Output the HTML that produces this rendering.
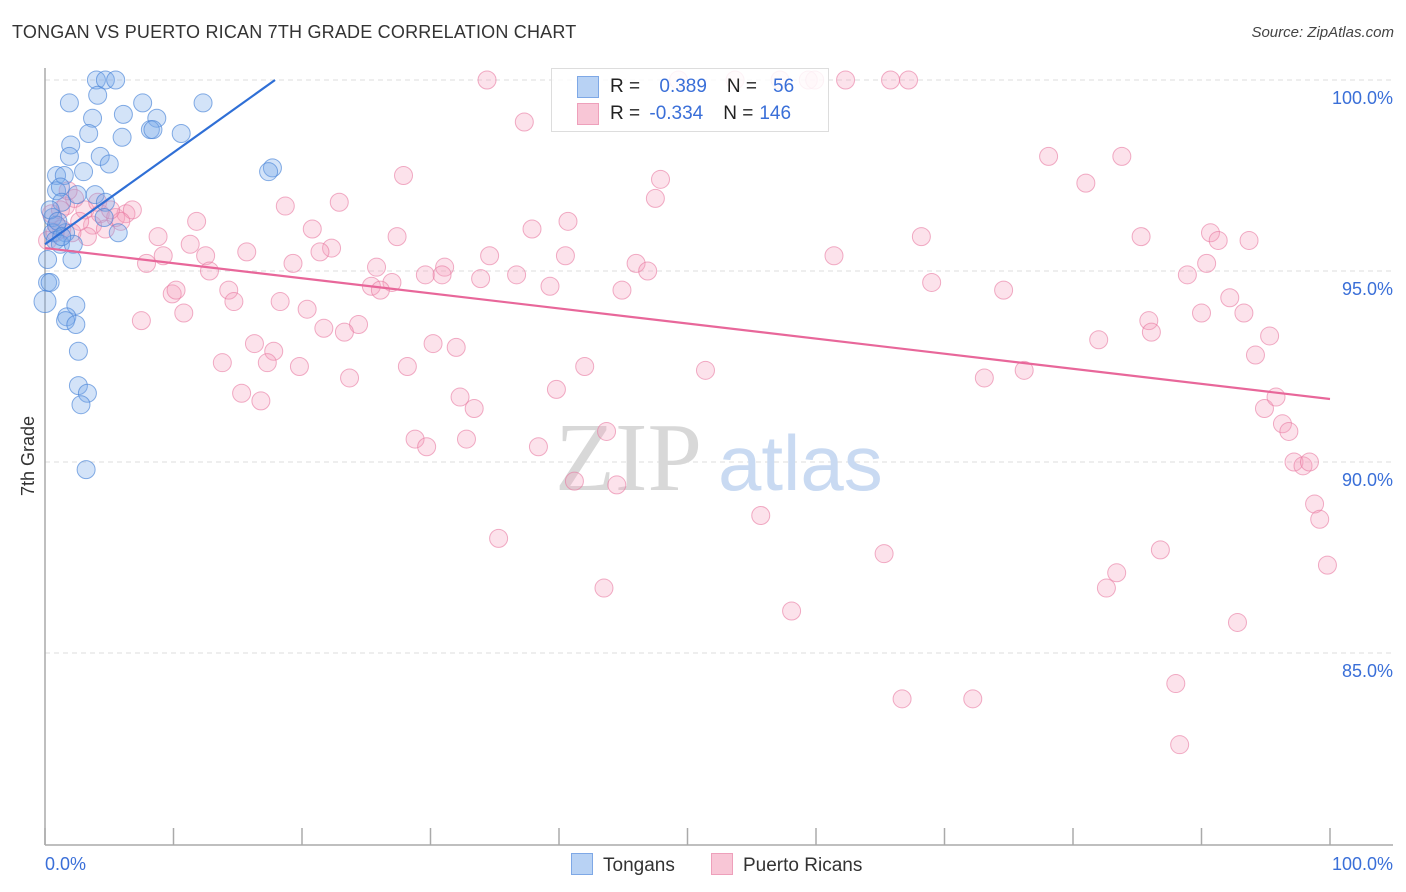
<!DOCTYPE html>
<html><head><meta charset="utf-8"><style>
body{margin:0;background:#fff;font-family:"Liberation Sans",sans-serif;}
#wrap{position:relative;width:1406px;height:892px;overflow:hidden;}
.t{position:absolute;white-space:nowrap;}
</style></head><body>
<div id="wrap">
<div class="t" style="left:12px;top:22px;font-size:18px;color:#333;letter-spacing:0.2px;">TONGAN VS PUERTO RICAN 7TH GRADE CORRELATION CHART</div>
<div class="t" style="right:12px;top:24px;font-size:15px;color:#444;font-style:italic;">Source: ZipAtlas.com</div>
<svg id="plot" width="1406" height="892" style="position:absolute;left:0;top:0"></svg>
</div>
<script>
const blueX=[4.0,4.7,5.5,4.1,1.9,7.6,12.3,6.1,3.7,8.7,8.2,8.4,3.4,10.6,6.0,2.0,1.9,4.3,5.0,3.0,17.7,17.4,0.9,1.5,0.9,1.2,3.9,2.5,4.7,1.3,0.6,4.6,0.9,0.6,1.6,5.7,0.8,1.2,2.2,0.2,2.1,0.2,0.4,0.0,2.4,1.7,1.6,2.4,2.6,2.6,3.3,2.8,3.2,0.4,1.0,1.3];
const blueY=[100.0,100.0,100.0,99.6,99.4,99.4,99.4,99.1,99.0,99.0,98.7,98.7,98.6,98.6,98.5,98.3,98.0,98.0,97.8,97.6,97.7,97.6,97.5,97.5,97.1,97.2,97.0,97.0,96.8,96.8,96.4,96.4,96.2,96.0,96.0,96.0,95.8,95.7,95.7,95.3,95.3,94.7,94.7,94.2,94.1,93.8,93.7,93.6,92.9,92.0,91.8,91.5,89.8,96.6,96.3,95.9];
const pinkX=[34.4,49.3,53.7,57.2,59.4,59.9,62.3,65.8,67.2,37.3,78.1,83.8,81.0,27.9,47.9,47.5,18.7,22.9,40.7,11.8,20.8,27.4,37.9,68.2,85.3,90.7,93.7,91.3,8.8,11.3,15.7,22.3,21.4,34.6,40.5,61.4,90.4,7.9,9.2,12.5,12.8,19.3,25.8,31.1,29.6,30.9,33.9,36.7,46.0,46.9,88.9,69.0,27.0,25.4,26.1,39.3,44.9,74.6,9.9,10.2,14.3,14.7,10.8,7.5,18.3,20.4,24.4,21.7,23.3,92.2,90.0,93.3,85.9,86.1,82.0,95.3,94.2,16.3,17.8,30.2,32.0,13.8,17.3,19.8,28.2,42.0,51.4,23.7,73.1,76.2,15.3,16.8,32.3,33.4,39.8,94.9,95.8,96.3,96.8,28.8,29.7,32.8,38.4,43.7,97.2,97.9,98.4,41.2,44.5,98.8,99.2,35.3,55.7,65.3,86.8,83.4,99.8,82.6,43.5,58.1,92.8,88.0,66.7,72.2,88.3,0.5,0.9,1.3,1.6,2.3,1.8,3.1,3.7,4.3,4.7,5.5,6.3,6.8,5.9,3.3,0.2,0.8,2.7,4.1,5.1,1.2,2.1];
const pinkY=[100,100,100,100,100,100,100,100,100,98.9,98.0,98.0,97.3,97.5,97.4,96.9,96.7,96.8,96.3,96.3,96.1,95.9,96.1,95.9,95.9,96.0,95.8,95.8,95.9,95.7,95.5,95.6,95.5,95.4,95.4,95.4,95.2,95.2,95.4,95.4,95.0,95.2,95.1,95.1,94.9,94.9,94.8,94.9,95.2,95.0,94.9,94.7,94.7,94.6,94.5,94.6,94.5,94.5,94.4,94.5,94.5,94.2,93.9,93.7,94.2,94.0,93.6,93.5,93.4,94.3,93.9,93.9,93.7,93.4,93.2,93.3,92.8,93.1,92.9,93.1,93.0,92.6,92.6,92.5,92.5,92.5,92.4,92.2,92.2,92.4,91.8,91.6,91.7,91.4,91.9,91.4,91.7,91.0,90.8,90.6,90.4,90.6,90.4,90.8,90.0,89.9,90.0,89.5,89.4,88.9,88.5,88.0,88.6,87.6,87.7,87.1,87.3,86.7,86.7,86.1,85.8,84.2,83.8,83.8,82.6,96.5,96.2,96.1,96.7,96.9,97.1,96.6,96.2,96.5,96.1,96.4,96.5,96.6,96.3,95.9,95.8,96.0,96.3,96.8,96.6,96.6,96.0];
const blueLine=[[0,95.7],[17.9,100]];
const pinkLine=[[0,95.6],[100,91.65]];
const yTicks=[100,95,90,85];
const yTickLabels=["100.0%","95.0%","90.0%","85.0%"];
const xTickCount=10;

const svg=document.getElementById('plot');
const NS='http://www.w3.org/2000/svg';
const X0=45,X1=1330,YTOP=80,PXPER=38.2;
function sx(v){return X0+(X1-X0)*v/100;}
function sy(v){return YTOP+(100-v)*PXPER;}
function mk(tag,attrs){const e=document.createElementNS(NS,tag);for(const k in attrs)e.setAttribute(k,attrs[k]);svg.appendChild(e);return e;}

yTicks.forEach((t,i)=>{
  const g=mk('line',{x1:X0,x2:1393,y1:sy(t),y2:sy(t),stroke:'#ddd','stroke-dasharray':'5,4','stroke-width':1});
  
  
  const tx=mk('text',{x:1393,y:sy(t)+24,'text-anchor':'end','font-size':18,fill:'#3a6fd8','font-family':'Liberation Sans, sans-serif'});
  tx.textContent=yTickLabels[i];
  
  
});
let ax=mk('line',{x1:X0,x2:X0,y1:68,y2:845,stroke:'#aaa','stroke-width':1.5});


let bx=mk('line',{x1:X0,x2:1393,y1:845,y2:845,stroke:'#aaa','stroke-width':1.5});


for(let i=0;i<=xTickCount;i++){
  const tk=mk('line',{x1:sx(i*100/xTickCount),x2:sx(i*100/xTickCount),y1:828,y2:845,stroke:'#aaa','stroke-width':1.5});
  
  
}
function label(x,y,txt,anchor,name){const t=mk('text',{x:x,y:y,'text-anchor':anchor,'font-size':18,fill:'#3a6fd8','font-family':'Liberation Sans, sans-serif'});t.textContent=txt;}
label(45,870,'0.0%','start','x-min-label');
label(1393,870,'100.0%','end','x-max-label');
const yt=mk('text',{x:34,y:456,'text-anchor':'middle','font-size':18,fill:'#333',transform:'rotate(-90 34 456)','font-family':'Liberation Sans, sans-serif'});
yt.textContent='7th Grade';


const w1=mk('text',{x:555,y:490,'font-size':98,fill:'#d8d8d8','font-family':'Liberation Serif, serif'});
w1.textContent='ZIP';


const w2=mk('text',{x:718,y:490,'font-size':78,fill:'#c9daf2','font-family':'Liberation Sans, sans-serif'});
w2.textContent='atlas';



for(let i=0;i<pinkX.length;i++){
  const c=mk('circle',{cx:sx(pinkX[i]),cy:sy(pinkY[i]),r:9,fill:'rgba(244,160,190,0.3)',stroke:'rgba(232,120,160,0.6)','stroke-width':1});
  
  
}
for(let i=0;i<blueX.length;i++){
  const c=mk('circle',{cx:sx(blueX[i]),cy:sy(blueY[i]),r:(blueX[i]===0?11:9),fill:'rgba(120,170,235,0.33)',stroke:'rgba(70,130,215,0.65)','stroke-width':1});
  
  
}
const bl=mk('line',{x1:sx(blueLine[0][0]),y1:sy(blueLine[0][1]),x2:sx(blueLine[1][0]),y2:sy(blueLine[1][1]),stroke:'#2f6fd6','stroke-width':2.2});


const pl=mk('line',{x1:sx(pinkLine[0][0]),y1:sy(pinkLine[0][1]),x2:sx(pinkLine[1][0]),y2:sy(pinkLine[1][1]),stroke:'#e8679a','stroke-width':2.2});


</script>
<div class="t" style="left:551px;top:68px;width:276px;height:62px;border:1px solid #ddd;background:rgba(255,255,255,0.85);font-size:19px;">
  <div style="position:absolute;left:25px;top:7px;width:20px;height:20px;background:#b8d2f4;border:1px solid #7ea8e6;"></div>
  <div style="position:absolute;left:25px;top:34px;width:20px;height:20px;background:#f8c6d6;border:1px solid #eea0bb;"></div>
  <div style="position:absolute;left:58px;top:7px;color:#222;">R = <span style="color:#3a6fd8;margin-left:14px;">0.389</span><span style="margin-left:20px;">N =</span><span style="color:#3a6fd8;margin-left:16px;">56</span></div>
  <div style="position:absolute;left:58px;top:34px;color:#222;">R = <span style="color:#3a6fd8;margin-left:4px;">-0.334</span><span style="margin-left:20px;">N =</span><span style="color:#3a6fd8;margin-left:6px;">146</span></div>
</div>
<div class="t" style="left:571px;top:853px;font-size:19px;color:#333;"><span style="display:inline-block;width:20px;height:20px;background:#b8d2f4;border:1px solid #7ea8e6;vertical-align:-4px;margin-right:10px;"></span>Tongans</div>
<div class="t" style="left:711px;top:853px;font-size:19px;color:#333;"><span style="display:inline-block;width:20px;height:20px;background:#f8c6d6;border:1px solid #eea0bb;vertical-align:-4px;margin-right:10px;"></span>Puerto Ricans</div>
</body></html>
